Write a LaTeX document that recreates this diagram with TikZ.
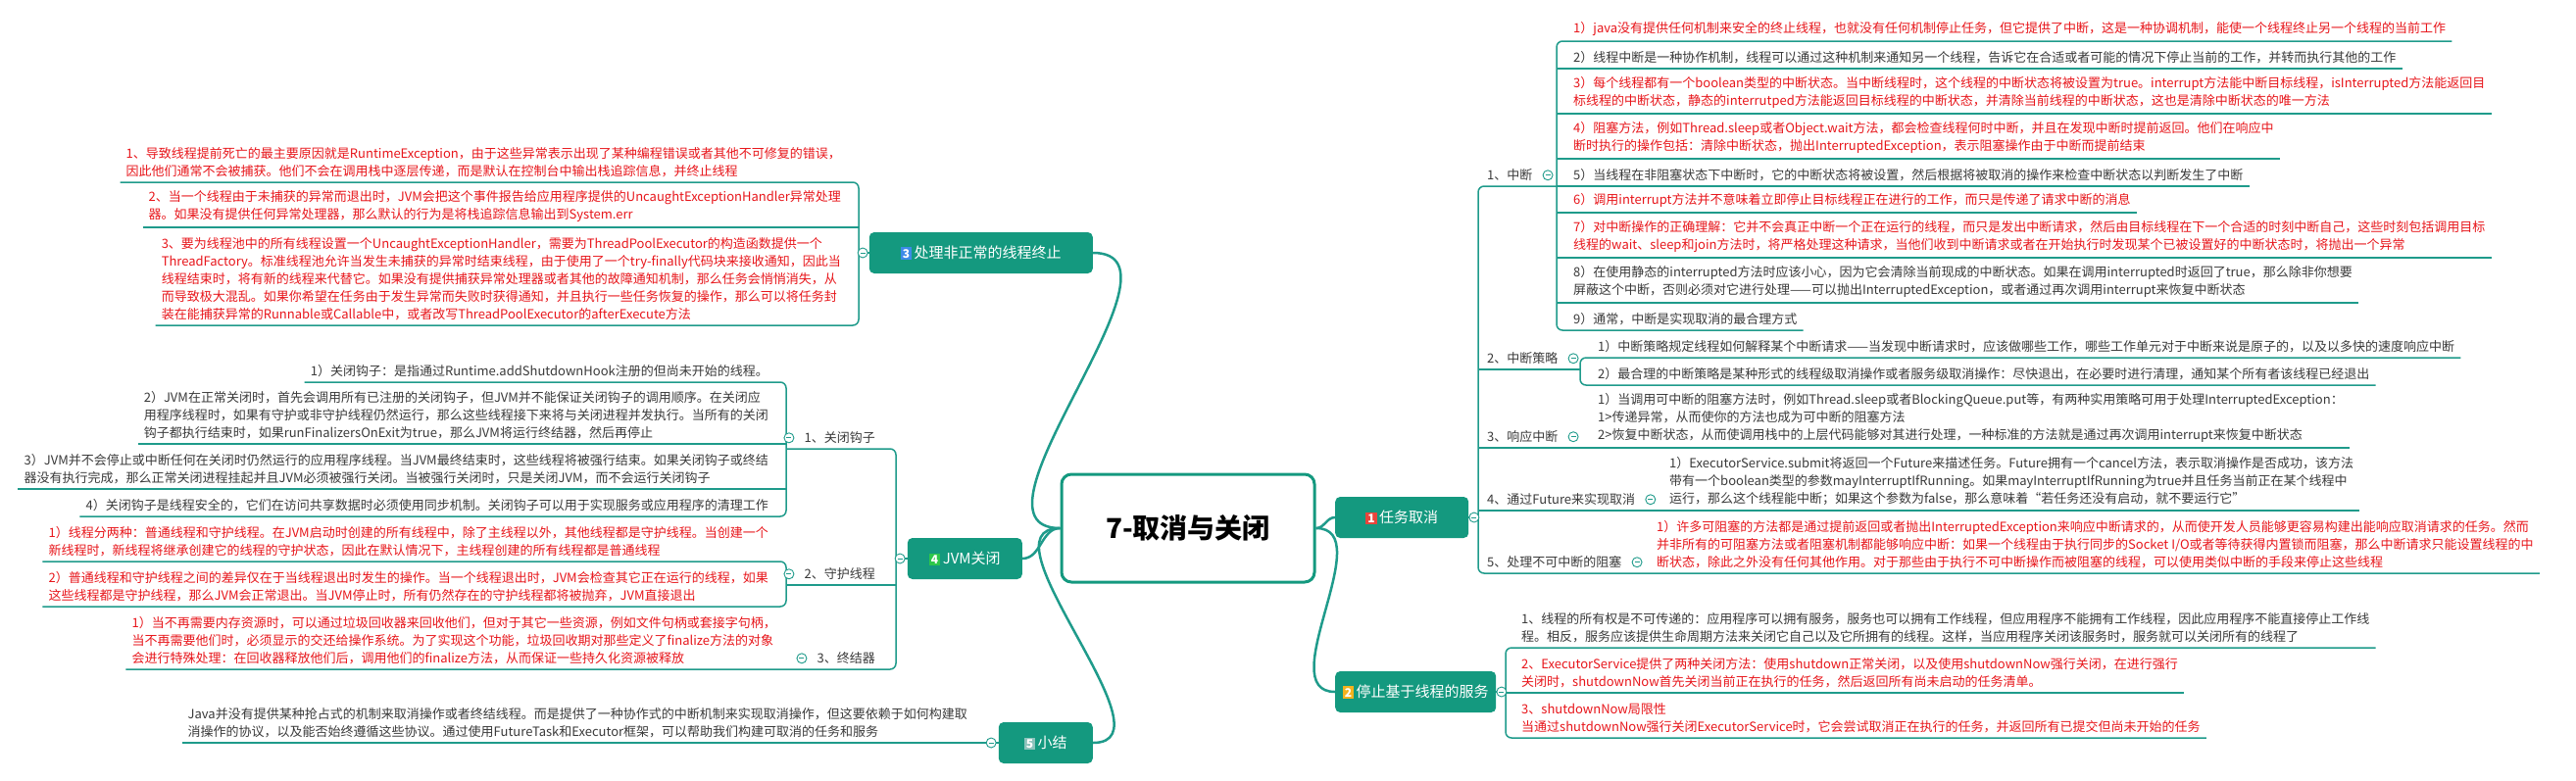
\documentclass[tikz,border=0pt]{standalone}
\usepackage{fontspec}
\setmainfont{Noto Sans CJK SC}
\usepackage{tikz}
\usetikzlibrary{positioning}

\definecolor{lineC}{HTML}{1F9B8B}
\definecolor{topicC}{HTML}{14997F}
\definecolor{redC}{HTML}{E8161B}
\definecolor{darkC}{HTML}{3A3A3A}
\definecolor{bdgA}{HTML}{E8453C}
\definecolor{bdgB}{HTML}{F5B21E}
\definecolor{bdgC}{HTML}{3D8BE8}
\definecolor{bdgD}{HTML}{2DC74A}
\definecolor{bdgE}{HTML}{8CC3BC}

\newcommand\leaffont{\fontsize{13pt}{18pt}\selectfont}
\newcommand\topicfont{\fontsize{15pt}{18pt}\selectfont}
\newcommand\rootfont{\fontsize{28pt}{32pt}\selectfont\bfseries}
\newcommand\badge[2]{{\fboxsep=2pt\colorbox{#1}{\textcolor{white}{\fontsize{12pt}{12pt}\selectfont\bfseries #2}}}}

\begin{document}
\begin{tikzpicture}[x=1pt, y=-1pt]
% STYLES
\tikzset{%
    link/.style={draw=lineC, line width=1.5pt},
    branch/.style={draw=lineC, line width=2.5pt},
    leafR/.style={%
anchor=south west,
inner xsep=6pt,
inner ysep=5pt,
align=left,
font=\leaffont,
text=darkC
                          },
    leafL/.style={leafR, anchor=south east},
    hot/.style={text=redC},
    labelR/.style={anchor=south west, inner xsep=6pt, inner ysep=5pt, font=\leaffont, text=darkC},
    labelL/.style={labelR, anchor=south east},
    fold/.style={%
circle,
draw=lineC,
fill=white,
line width=0.9pt,
minimum size=10pt,
inner sep=0pt,
path picture={\draw[lineC, line width=0.9pt] ([xshift=-2.5pt]path picture bounding box.center) -- ([xshift=2.5pt]path picture bounding box.center);}
                          },
    topic/.style={%
fill=topicC,
rounded corners=5pt,
text=white,
font=\topicfont,
minimum height=42pt,
inner xsep=6pt
                          },
    root/.style={%
draw=topicC,
line width=3pt,
fill=white,
rounded corners=10pt,
font=\rootfont,
text=black,
minimum width=258pt,
minimum height=110pt
                          }
             }
\path[use as bounding box, fill=white] (0,0) rectangle (2628,796);

% Bracket columns
\coordinate (bt1) at (1508,0);
\coordinate (b1) at (1588,0);
\coordinate (b2) at (1612,0);
\coordinate (bt2) at (1536,0);
\coordinate (bt3) at (876,0);
\coordinate (bt4) at (914,0);
\coordinate (b41) at (802,0);

% Draw root and topics
\node [root] (root) at (1212,539) {7-取消与关闭};
\node [topic, anchor=west, minimum width=136pt] (t1) at (1362,528) {\badge{bdgA}{1}\,任务取消};
\node [topic, anchor=west, minimum width=164pt] (t2) at (1362,706) {\badge{bdgB}{2}\,停止基于线程的服务};
\node [topic, anchor=east, minimum width=228pt] (t3) at (1115,258) {\badge{bdgC}{3}\,处理非正常的线程终止};
\node [topic, anchor=east, minimum width=117pt] (t4) at (1043,570) {\badge{bdgD}{4}\,JVM关闭};
\node [topic, anchor=east, minimum width=96pt] (t5) at (1115,758) {\badge{bdgE}{5}\,小结};

% Draw the links between root and topics
\path[branch]
(root.east) edge[out=0, in=180] (t1.west)
(root.east) edge[out=0, in=180] (t2.west)
(root.west) edge[out=180, in=0] (t3.east)
(root.west) edge[out=180, in=0] (t4.east)
(root.west) edge[out=180, in=0] (t5.east);

% 1 任务取消
\node [labelR] (l1) at (1511,190) {1、中断};
\node [labelR] (l2) at (1511,377) {2、中断策略};
\node [labelR] (l3) at (1511,457) {3、响应中断};
\node [labelR] (l4) at (1511,521) {4、通过Future来实现取消};
\node [labelR] (l5) at (1511,585) {5、处理不可中断的阻塞};

\node [leafR, hot] (n11) at (1599,42) {1）java没有提供任何机制来安全的终止线程，也就没有任何机制停止任务，但它提供了中断，这是一种协调机制，能使一个线程终止另一个线程的当前工作};
\node [leafR] (n12) at (1599,70) {2）线程中断是一种协作机制，线程可以通过这种机制来通知另一个线程，告诉它在合适或者可能的情况下停止当前的工作，并转而执行其他的工作};
\node [leafR, hot] (n13) at (1599,116) {3）每个线程都有一个boolean类型的中断状态。当中断线程时，这个线程的中断状态将被设置为true。interrupt方法能中断目标线程，isInterrupted方法能返回目\\标线程的中断状态，静态的interrutped方法能返回目标线程的中断状态，并清除当前线程的中断状态，这也是清除中断状态的唯一方法};
\node [leafR, hot] (n14) at (1599,162) {4）阻塞方法，例如Thread.sleep或者Object.wait方法，都会检查线程何时中断，并且在发现中断时提前返回。他们在响应中\\断时执行的操作包括：清除中断状态，抛出InterruptedException，表示阻塞操作由于中断而提前结束};
\node [leafR] (n15) at (1599,190) {5）当线程在非阻塞状态下中断时，它的中断状态将被设置，然后根据将被取消的操作来检查中断状态以判断发生了中断};
\node [leafR, hot] (n16) at (1599,217) {6）调用interrupt方法并不意味着立即停止目标线程正在进行的工作，而只是传递了请求中断的消息};
\node [leafR, hot] (n17) at (1599,263) {7）对中断操作的正确理解：它并不会真正中断一个正在运行的线程，而只是发出中断请求，然后由目标线程在下一个合适的时刻中断自己，这些时刻包括调用目标\\线程的wait、sleep和join方法时，将严格处理这种请求，当他们收到中断请求或者在开始执行时发现某个已被设置好的中断状态时，将抛出一个异常};
\node [leafR] (n18) at (1599,309) {8）在使用静态的interrupted方法时应该小心，因为它会清除当前现成的中断状态。如果在调用interrupted时返回了true，那么除非你想要\\屏蔽这个中断，否则必须对它进行处理——可以抛出InterruptedException，或者通过再次调用interrupt来恢复中断状态};
\node [leafR] (n19) at (1599,337) {9）通常，中断是实现取消的最合理方式};

\node [leafR] (n21) at (1624,365) {1）中断策略规定线程如何解释某个中断请求——当发现中断请求时，应该做哪些工作，哪些工作单元对于中断来说是原子的，以及以多快的速度响应中断};
\node [leafR] (n22) at (1624,393) {2）最合理的中断策略是某种形式的线程级取消操作或者服务级取消操作：尽快退出，在必要时进行清理，通知某个所有者该线程已经退出};
\node [leafR] (n31) at (1624,457) {1）当调用可中断的阻塞方法时，例如Thread.sleep或者BlockingQueue.put等，有两种实用策略可用于处理InterruptedException：\\1>传递异常，从而使你的方法也成为可中断的阻塞方法\\2>恢复中断状态，从而使调用栈中的上层代码能够对其进行处理，一种标准的方法就是通过再次调用interrupt来恢复中断状态};
\node [leafR] (n41) at (1697,521) {1）ExecutorService.submit将返回一个Future来描述任务。Future拥有一个cancel方法，表示取消操作是否成功，该方法\\带有一个boolean类型的参数mayInterruptIfRunning。如果mayInterruptIfRunning为true并且任务当前正在某个线程中\\运行，那么这个线程能中断；如果这个参数为false，那么意味着“若任务还没有启动，就不要运行它”};
\node [leafR, hot] (n51) at (1684,585) {1）许多可阻塞的方法都是通过提前返回或者抛出InterruptedException来响应中断请求的，从而使开发人员能够更容易构建出能响应取消请求的任务。然而\\并非所有的可阻塞方法或者阻塞机制都能够响应中断：如果一个线程由于执行同步的Socket I/O或者等待获得内置锁而阻塞，那么中断请求只能设置线程的中\\断状态，除此之外没有任何其他作用。对于那些由于执行不可中断操作而被阻塞的线程，可以使用类似中断的手段来停止这些线程};

% 2 停止基于线程的服务
\node [leafR] (n61) at (1546,661) {1、线程的所有权是不可传递的：应用程序可以拥有服务，服务也可以拥有工作线程，但应用程序不能拥有工作线程，因此应用程序不能直接停止工作线\\程。相反，服务应该提供生命周期方法来关闭它自己以及它所拥有的线程。这样，当应用程序关闭该服务时，服务就可以关闭所有的线程了};
\node [leafR, hot] (n62) at (1546,707) {2、ExecutorService提供了两种关闭方法：使用shutdown正常关闭，以及使用shutdownNow强行关闭，在进行强行\\关闭时，shutdownNow首先关闭当前正在执行的任务，然后返回所有尚未启动的任务清单。};
\node [leafR, hot] (n63) at (1546,753) {3、shutdownNow局限性\\当通过shutdownNow强行关闭ExecutorService时，它会尝试取消正在执行的任务，并返回所有已提交但尚未开始的任务};

% 3 处理非正常的线程终止
\node [leafL, hot] (n71) at (864,186) {1、导致线程提前死亡的最主要原因就是RuntimeException，由于这些异常表示出现了某种编程错误或者其他不可修复的错误，\\因此他们通常不会被捕获。他们不会在调用栈中逐层传递，而是默认在控制台中输出栈追踪信息，并终止线程};
\node [leafL, hot] (n72) at (864,232) {2、当一个线程由于未捕获的异常而退出时，JVM会把这个事件报告给应用程序提供的UncaughtExceptionHandler异常处理\\器。如果没有提供任何异常处理器，那么默认的行为是将栈追踪信息输出到System.err};
\node [leafL, hot] (n73) at (864,332) {3、要为线程池中的所有线程设置一个UncaughtExceptionHandler，需要为ThreadPoolExecutor的构造函数提供一个\\ThreadFactory。标准线程池允许当发生未捕获的异常时结束线程，由于使用了一个try-finally代码块来接收通知，因此当\\线程结束时，将有新的线程来代替它。如果没有提供捕获异常处理器或者其他的故障通知机制，那么任务会悄悄消失，从\\而导致极大混乱。如果你希望在任务由于发生异常而失败时获得通知，并且执行一些任务恢复的操作，那么可以将任务封\\装在能捕获异常的Runnable或Callable中，或者改写ThreadPoolExecutor的afterExecute方法};

% 4 JVM关闭
\node [labelL] (l41) at (899,458) {1、关闭钩子};
\node [labelL] (l42) at (899,597) {2、守护线程};
\node [labelL] (l43) at (899,683) {3、终结器};

\node [leafL] (n81) at (790,390) {1）关闭钩子：是指通过Runtime.addShutdownHook注册的但尚未开始的线程。};
\node [leafL] (n82) at (790,453) {2）JVM在正常关闭时，首先会调用所有已注册的关闭钩子，但JVM并不能保证关闭钩子的调用顺序。在关闭应\\用程序线程时，如果有守护或非守护线程仍然运行，那么这些线程接下来将与关闭进程并发执行。当所有的关闭\\钩子都执行结束时，如果runFinalizersOnExit为true，那么JVM将运行终结器，然后再停止};
\node [leafL] (n83) at (790,499) {3）JVM并不会停止或中断任何在关闭时仍然运行的应用程序线程。当JVM最终结束时，这些线程将被强行结束。如果关闭钩子或终结\\器没有执行完成，那么正常关闭进程挂起并且JVM必须被强行关闭。当被强行关闭时，只是关闭JVM，而不会运行关闭钩子};
\node [leafL] (n84) at (790,527) {4）关闭钩子是线程安全的，它们在访问共享数据时必须使用同步机制。关闭钩子可以用于实现服务或应用程序的清理工作};
\node [leafL, hot] (n91) at (790,573) {1）线程分两种：普通线程和守护线程。在JVM启动时创建的所有线程中，除了主线程以外，其他线程都是守护线程。当创建一个\\新线程时，新线程将继承创建它的线程的守护状态，因此在默认情况下，主线程创建的所有线程都是普通线程};
\node [leafL, hot] (n92) at (790,619) {2）普通线程和守护线程之间的差异仅在于当线程退出时发生的操作。当一个线程退出时，JVM会检查其它正在运行的线程，如果\\这些线程都是守护线程，那么JVM会正常退出。当JVM停止时，所有仍然存在的守护线程都将被抛弃，JVM直接退出};
\node [leafL, hot] (n101) at (798,683) {1）当不再需要内存资源时，可以通过垃圾回收器来回收他们，但对于其它一些资源，例如文件句柄或套接字句柄，\\当不再需要他们时，必须显示的交还给操作系统。为了实现这个功能，垃圾回收期对那些定义了finalize方法的对象\\会进行特殊处理：在回收器释放他们后，调用他们的finalize方法，从而保证一些持久化资源被释放};

% 5 小结
\node [leafL] (n111) at (993,758) {Java并没有提供某种抢占式的机制来取消操作或者终结线程。而是提供了一种协作式的中断机制来实现取消操作，但这要依赖于如何构建取\\消操作的协议，以及能否始终遵循这些协议。通过使用FutureTask和Executor框架，可以帮助我们构建可取消的任务和服务};

% Draw underlines and brackets
\draw[link, rounded corners=6pt] (b1 |- l1.south) -- (bt1 |- l1.south) -- (bt1 |- l5.south) -- (n51.south east);
\draw[link] (bt1 |- l2.south) -- (b2 |- l2.south);
\draw[link] (bt1 |- l3.south) -- (n31.south east);
\draw[link] (bt1 |- l4.south) -- (n41.south east);
\draw[link] (t1.east) -- (bt1 |- t1.east);
\draw[link, rounded corners=6pt] (n11.south east) -- (b1 |- n11.south) -- (b1 |- n19.south) -- (n19.south east);
\foreach \n in {n12,n13,n14,n15,n16,n17,n18}
    \draw[link] (b1 |- \n.south) -- (\n.south east);
\draw[link, rounded corners=6pt] (n21.south east) -- (b2 |- n21.south) -- (b2 |- n22.south) -- (n22.south east);

\draw[link, rounded corners=6pt] (n61.south east) -- (bt2 |- n61.south) -- (bt2 |- n63.south) -- (n63.south east);
\draw[link] (bt2 |- n62.south) -- (n62.south east);
\draw[link] (t2.east) -- (bt2 |- t2.east);

\draw[link, rounded corners=6pt] (n71.south west) -- (bt3 |- n71.south) -- (bt3 |- n73.south) -- (n73.south west);
\draw[link] (n72.south west) -- (bt3 |- n72.south);
\draw[link] (t3.west) -- (bt3 |- t3.west);

\draw[link, rounded corners=6pt] (b41 |- l41.south) -- (bt4 |- l41.south) -- (bt4 |- l43.south) -- (n101.south west);
\draw[link] (bt4 |- l42.south) -- (b41 |- l42.south);
\draw[link] (t4.west) -- (bt4 |- t4.west);
\draw[link, rounded corners=6pt] (n81.south west) -- (b41 |- n81.south) -- (b41 |- n84.south) -- (n84.south west);
\foreach \n in {n82,n83}
    \draw[link] (\n.south west) -- (b41 |- \n.south);
\draw[link, rounded corners=6pt] (n91.south west) -- (b41 |- n91.south) -- (b41 |- n92.south) -- (n92.south west);

\draw[link] (n111.south west) -- (t5.west);

% Draw fold marks
\node [fold, right=0pt of t1] (ft1) {};
\node [fold, right=0pt of t2] (ft2) {};
\node [fold, left=1pt of t3] (ft3) {};
\node [fold, left=2pt of t4] (ft4) {};
\node [fold, left=2pt of t5] (ft5) {};
\node [fold, right=4pt of l1] (fl1) {};
\node [fold, right=4pt of l2] (fl2) {};
\node [fold, right=4pt of l3] (fl3) {};
\node [fold, right=4pt of l4] (fl4) {};
\node [fold, right=4pt of l5] (fl5) {};
\node [fold, left=4pt of l41] (fl41) {};
\node [fold, left=4pt of l42] (fl42) {};
\node [fold, left=4pt of l43] (fl43) {};
\end{tikzpicture}
\end{document}
